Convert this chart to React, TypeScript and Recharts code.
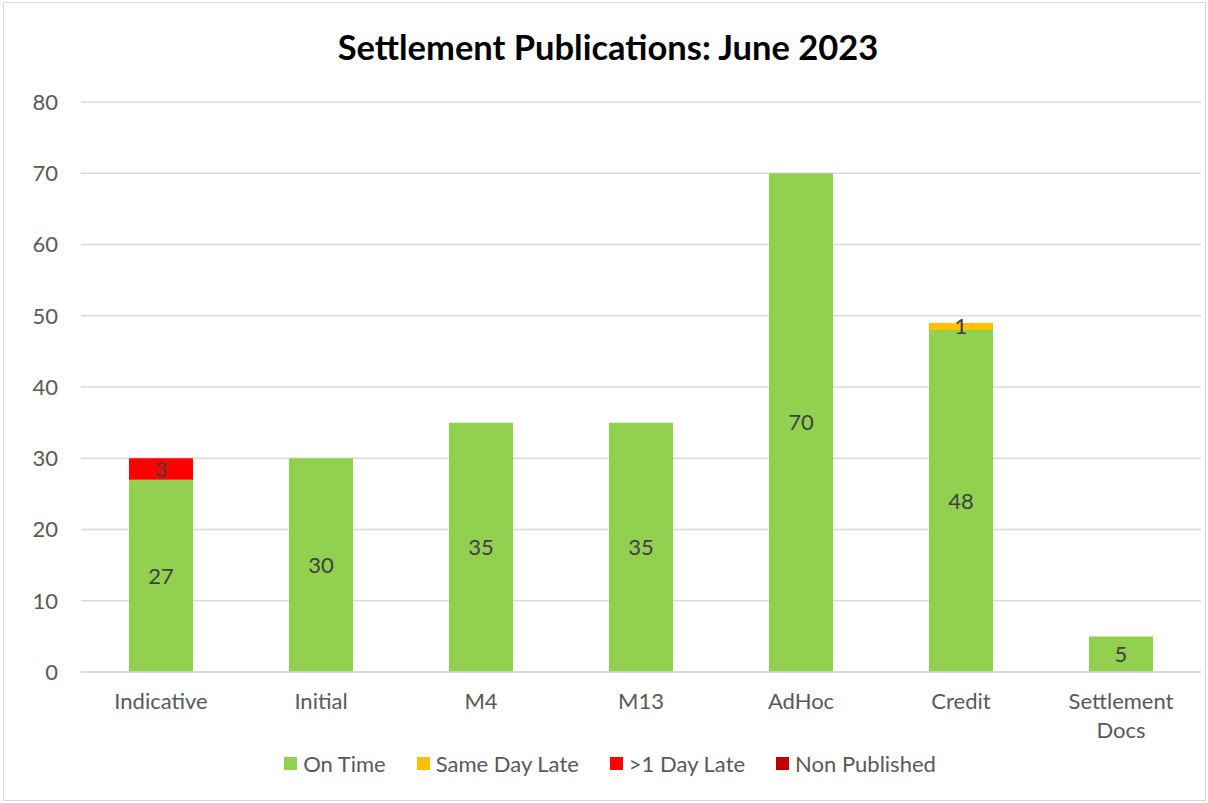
import React from 'react'
import { BarChart, Bar, XAxis, YAxis, CartesianGrid, Legend, LabelList } from 'recharts'

const categories = ['Indicative', 'Initial', 'M4', 'M13', 'AdHoc', 'Credit', 'Settlement Docs']
const onTime = [27, 30, 35, 35, 70, 48, 5]
const sameDayLate = [0, 0, 0, 0, 0, 1, 0]
const overOneDayLate = [3, 0, 0, 0, 0, 0, 0]
const nonPublished = [0, 0, 0, 0, 0, 0, 0]
const yTicks = [0, 10, 20, 30, 40, 50, 60, 70, 80]

const series = [
    { key: 'onTime', name: 'On Time', color: '#92D050' },
    { key: 'sameDayLate', name: 'Same Day Late', color: '#FFC000' },
    { key: 'overOneDayLate', name: '>1 Day Late', color: '#FF0000' },
    { key: 'nonPublished', name: 'Non Published', color: '#C00000' },
]

const data = categories.map((name, i) => ({
    name,
    onTime: onTime[i],
    sameDayLate: sameDayLate[i],
    overOneDayLate: overOneDayLate[i],
    nonPublished: nonPublished[i],
}))

const FONT = 'Lato, "Open Sans", sans-serif'
const TEXT = '#595959'

// eslint-disable-next-line @typescript-eslint/no-explicit-any
const CategoryTick = ({ x, y, payload }: any) => {
    const label: string = payload.value
    const lines = label.length > 12 ? label.split(' ') : [label]
    return (
        <text x={x} y={y} textAnchor="middle" fill={TEXT} fontSize={22} fontFamily={FONT}>
            {lines.map((line, i) => (
                <tspan key={i} x={x} dy={i === 0 ? '0.71em' : 29}>
                    {line}
                </tspan>
            ))}
        </text>
    )
}

const LegendContent = () => (
    <div style={{ display: 'flex', justifyContent: 'center', gap: 31, fontFamily: FONT, fontSize: 22, color: TEXT, paddingRight: 2 }}>
        {series.map((s) => (
            <div key={s.key} style={{ display: 'flex', alignItems: 'center' }}>
                <span style={{ width: 13, height: 13, background: s.color, marginRight: 6, display: 'inline-block' }} />
                <span>{s.name}</span>
            </div>
        ))}
    </div>
)

const hideZero = (v: unknown) => (v ? String(v) : '')

export default function App() {
    return (
        <div style={{ position: 'absolute', left: 0, top: 0, width: 1208, height: 803, background: '#fff' }}>
            <div
                style={{
                    position: 'absolute',
                    left: 3,
                    top: 2,
                    width: 1203,
                    height: 799,
                    border: '1px solid #d9d9d9',
                    boxSizing: 'border-box',
                }}
            />
            <div
                style={{
                    position: 'absolute',
                    top: 25,
                    left: 4,
                    width: 1208,
                    textAlign: 'center',
                    fontFamily: FONT,
                    fontWeight: 'bold',
                    fontSize: 34.5,
                    color: '#000',
                    lineHeight: '44px',
                }}
            >
                Settlement Publications: June 2023
            </div>
            <div style={{ position: 'absolute', left: 0, top: 0 }}>
                <BarChart
                    width={1208}
                    height={803}
                    data={data}
                    margin={{ top: 102, right: 7, left: 21, bottom: 23 }}
                    barSize={64}
                >
                    <CartesianGrid vertical={false} stroke="#d9d9d9" strokeWidth={1.5} />
                    <XAxis
                        dataKey="name"
                        height={78}
                        axisLine={{ stroke: '#d9d9d9', strokeWidth: 1.5 }}
                        tickLine={false}
                        tickSize={0}
                        tickMargin={21}
                        interval={0}
                        tick={<CategoryTick />}
                    />
                    <YAxis
                        width={60}
                        domain={[0, 80]}
                        ticks={yTicks}
                        axisLine={false}
                        tickLine={false}
                        tickSize={0}
                        tickMargin={23}
                        tick={{ fill: TEXT, fontSize: 22, fontFamily: FONT }}
                    />
                    <Legend
                        verticalAlign="bottom"
                        height={30}
                        content={<LegendContent />}
                        wrapperStyle={{ height: 30 }}
                    />
                    {series.map((s) => (
                        <Bar key={s.key} dataKey={s.key} name={s.name} stackId="a" fill={s.color} isAnimationActive={false}>
                            <LabelList
                                dataKey={s.key}
                                position="center"
                                formatter={hideZero}
                                fill="#404040"
                                fontSize={22}
                                fontFamily={FONT}
                            />
                        </Bar>
                    ))}
                </BarChart>
            </div>
        </div>
    )
}
